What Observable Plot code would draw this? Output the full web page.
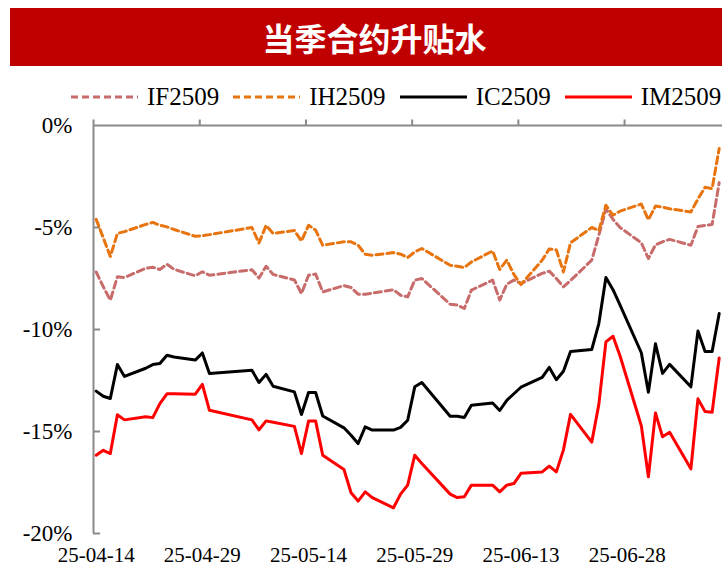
<!DOCTYPE html>
<html>
<head>
<meta charset="utf-8">
<script src="https://cdn.jsdelivr.net/npm/d3@7"></script>
<script src="https://cdn.jsdelivr.net/npm/@observablehq/plot@0.6"></script>
<style>
  html, body { margin: 0; padding: 0; background: #fff; }
  body { width: 722px; height: 570px; overflow: hidden; position: relative; }
  #header { position: relative; height: 110px; width: 722px; }
  #banner { position: absolute; left: 10px; top: 8px; width: 729px; height: 58px; background: #C00000;
            color: #fff; font-family: "Noto Sans CJK SC", sans-serif; font-weight: 700; font-size: 32px;
            line-height: 58px; text-align: center; }
  #legend { position: absolute; left: 71px; top: 82px; height: 30px; display: flex; align-items: center;
            white-space: nowrap; font-family: "Liberation Serif", "Times New Roman", serif; font-size: 25px; color: #000; }
  .item { display: flex; align-items: center; margin-right: 14px; }
  .item svg { margin-right: 9px; }
  #chart svg { display: block; }
</style>
</head>
<body>
<div id="header">
  <div id="banner">当季合约升贴水</div>
  <div id="legend"></div>
</div>
<div id="chart"></div>
<script>
// ---- data ----
const dates = [
  "2025-04-14","2025-04-15","2025-04-16","2025-04-17","2025-04-18","2025-04-21","2025-04-22","2025-04-23","2025-04-24","2025-04-25","2025-04-28","2025-04-29","2025-04-30",
  "2025-05-06","2025-05-07","2025-05-08","2025-05-09","2025-05-12","2025-05-13","2025-05-14","2025-05-15","2025-05-16","2025-05-19","2025-05-20","2025-05-21","2025-05-22","2025-05-23","2025-05-26","2025-05-27","2025-05-28","2025-05-29","2025-05-30",
  "2025-06-03","2025-06-04","2025-06-05","2025-06-06","2025-06-09","2025-06-10","2025-06-11","2025-06-12","2025-06-13","2025-06-16","2025-06-17","2025-06-18","2025-06-19","2025-06-20","2025-06-23","2025-06-24","2025-06-25","2025-06-26","2025-06-27","2025-06-30",
  "2025-07-01","2025-07-02","2025-07-03","2025-07-04","2025-07-07","2025-07-08","2025-07-09","2025-07-10","2025-07-11"
];
const IF2509 = [
  -7.18,-7.9,-8.56,-7.42,-7.45,-7.0,-6.95,-7.06,-6.8,-7.05,-7.37,-7.17,-7.34,
  -7.07,-7.48,-6.9,-7.3,-7.57,-8.24,-7.34,-7.28,-8.16,-7.85,-7.94,-8.27,-8.27,-8.22,-8.05,-8.32,-8.4,-7.58,-7.5,
  -8.76,-8.8,-8.97,-8.07,-7.58,-8.56,-7.78,-7.58,-7.75,-7.25,-7.14,-7.5,-7.91,-7.6,-6.6,-5.38,-4.1,-4.6,-5.0,-5.75,
  -6.52,-5.85,-5.7,-5.58,-5.87,-4.95,-4.9,-4.85,-2.8
];
const IH2509 = [
  -4.6,-5.5,-6.42,-5.29,-5.2,-4.85,-4.75,-4.89,-4.97,-5.1,-5.43,-5.4,-5.35,
  -5.0,-5.76,-4.9,-5.29,-5.15,-5.66,-4.89,-5.13,-5.87,-5.7,-5.7,-5.87,-6.31,-6.36,-6.23,-6.31,-6.47,-6.2,-6.03,
  -6.85,-6.9,-6.96,-6.69,-6.15,-7.06,-6.6,-7.3,-7.8,-6.6,-6.05,-6.1,-7.18,-5.75,-5.0,-5.15,-3.91,-4.4,-4.2,-3.85,
  -4.62,-3.95,-4.0,-4.08,-4.24,-3.6,-3.03,-3.09,-1.13
];
const IC2509 = [
  -13.02,-13.27,-13.38,-11.72,-12.3,-11.9,-11.72,-11.67,-11.26,-11.35,-11.5,-11.15,-12.16,
  -12.0,-12.6,-12.2,-12.78,-13.06,-14.17,-13.09,-13.09,-14.24,-14.82,-15.18,-15.59,-14.77,-14.93,-14.93,-14.8,-14.45,-12.81,-12.6,
  -14.25,-14.25,-14.31,-13.71,-13.6,-13.97,-13.47,-13.15,-12.83,-12.35,-11.86,-12.46,-12.05,-11.08,-10.98,-9.71,-7.45,-8.05,-8.8,-11.14,
  -13.08,-10.7,-12.15,-11.71,-12.81,-10.07,-11.08,-11.08,-9.22
];
const IM2509 = [
  -16.16,-15.92,-16.08,-14.18,-14.43,-14.28,-14.32,-13.63,-13.15,-13.15,-13.17,-12.69,-13.96,
  -14.43,-14.92,-14.48,-14.55,-14.75,-16.08,-14.49,-14.49,-16.16,-16.86,-18.0,-18.41,-17.96,-18.24,-18.74,-18.07,-17.63,-16.16,-16.57,
  -18.07,-18.24,-18.2,-17.63,-17.63,-17.96,-17.63,-17.55,-17.05,-16.98,-16.7,-16.98,-15.9,-14.16,-15.52,-13.67,-10.61,-10.33,-11.3,-14.72,
  -17.22,-14.09,-15.26,-15.04,-16.83,-13.4,-14.02,-14.06,-11.4
];
const seriesNames = ["IF2509", "IH2509", "IC2509", "IM2509"];
const seriesValues = [IF2509, IH2509, IC2509, IM2509];
const xTickLabels = ["2025-04-14","2025-04-29","2025-05-14","2025-05-29","2025-06-13","2025-06-28"];
const yTicks = [0, -5, -10, -15, -20];

// ---- styles ----
const seriesColors = ["#C86B6B", "#E8740F", "#000000", "#FF0000"];
const seriesDash = ["7,4", "7,4", null, null];
const axisColor = "#8a8a8a";

// ---- legend ----
const legend = document.getElementById("legend");
seriesNames.forEach((name, i) => {
  const item = document.createElement("div");
  item.className = "item";
  const dash = seriesDash[i] ? `stroke-dasharray="${seriesDash[i]}"` : "";
  item.innerHTML = `<svg width="67" height="10"><line x1="0" y1="5" x2="67" y2="5" stroke="${seriesColors[i]}" stroke-width="3.2" ${dash}/></svg><span>${name}</span>`;
  legend.appendChild(item);
});

// ---- chart ----
const rows = [];
seriesNames.forEach((name, i) => {
  dates.forEach((d, j) => rows.push({series: name, date: new Date(d), value: seriesValues[i][j]}));
});
const x0 = new Date("2025-04-13T15:00:00Z");
const x1 = new Date("2025-07-11T11:12:00Z");
const fmt = d3.utcFormat("%y-%m-%d");

const chart = Plot.plot({
  width: 722,
  height: 460,
  marginLeft: 93,
  marginRight: 0,
  marginTop: 15,
  marginBottom: 37,
  style: {fontFamily: "'Liberation Serif', 'Times New Roman', serif", color: "#000", background: "#fff"},
  x: {type: "utc", domain: [x0, x1]},
  y: {domain: [-20, 0]},
  marks: [
    Plot.axisY(yTicks, {tickSize: 0, tickPadding: 21, fontSize: 23, tickFormat: d => `${d}%`, label: null}),
    Plot.axisX(xTickLabels.map(d => new Date(d)), {tickSize: 0, tickPadding: 14, fontSize: 21, tickFormat: fmt, label: null}),
    Plot.ruleY([0], {stroke: axisColor, strokeWidth: 2}),
    Plot.ruleX([x0], {y1: -20, y2: 0, stroke: axisColor, strokeWidth: 2}),
    Plot.ruleY(yTicks.slice(1), {y: d => d, x1: () => x0, x2: () => new Date(+x0 + 86400000), stroke: axisColor, strokeWidth: 2}),
    Plot.ruleX(xTickLabels.map(d => new Date(d)), {x: d => d, y1: () => 0, y2: () => 0.27, dx: -2.6, stroke: axisColor, strokeWidth: 2}),
    ...seriesNames.map((name, i) => Plot.line(rows.filter(r => r.series === name), {
      x: "date", y: "value", stroke: seriesColors[i], strokeWidth: 3,
      strokeDasharray: seriesDash[i] || undefined, strokeLinejoin: "round"
    }))
  ]
});
document.getElementById("chart").appendChild(chart);
</script>
</body>
</html>
